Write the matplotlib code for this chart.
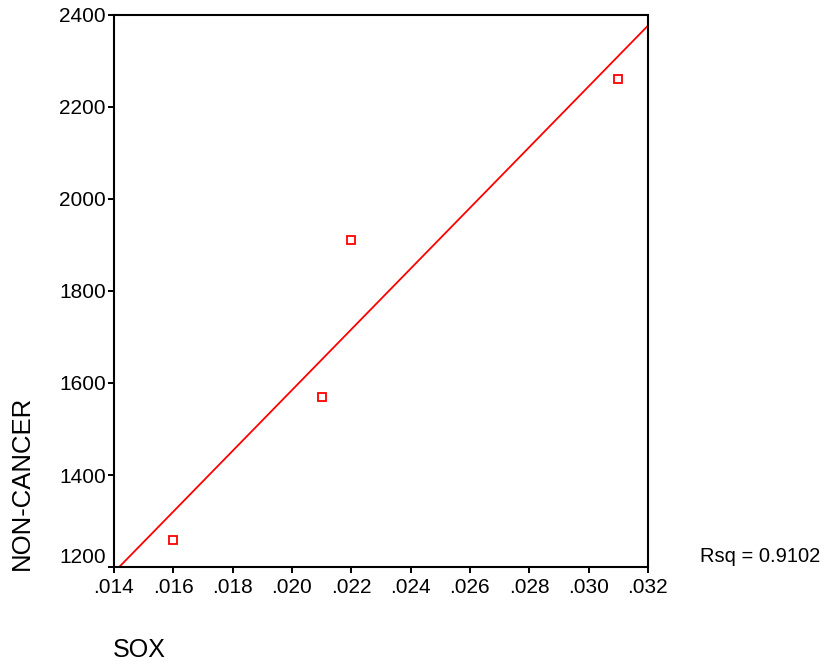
import numpy as np
import matplotlib
matplotlib.use("Agg")
import matplotlib.pyplot as plt
from matplotlib.ticker import FuncFormatter

plt.rcParams["font.family"] = ["Liberation Sans", "DejaVu Sans"]

sox = [0.016, 0.021, 0.022, 0.031]
non_cancer = [1258, 1570, 1910, 2260]
x_ticks = [0.014, 0.016, 0.018, 0.020, 0.022, 0.024, 0.026, 0.028, 0.030, 0.032]
y_ticks = [1200, 1400, 1600, 1800, 2000, 2200, 2400]
rsq_label = "Rsq = 0.9102"

fig = plt.figure(figsize=(8.24, 6.66), dpi=100)
ax = fig.add_axes([0.1383, 0.1486, 0.648, 0.829])

# least-squares fit line across the full x range
slope, intercept = np.polyfit(sox, non_cancer, 1)
xs = np.array([x_ticks[0], x_ticks[-1]])
ax.plot(xs, slope * xs + intercept, color="red", lw=1.3, zorder=2)

ax.plot(sox, non_cancer, linestyle="none", marker="s", ms=5.8,
        mfc="white", mec="red", mew=1.3, zorder=3)

ax.set_xlim(x_ticks[0], x_ticks[-1])
ax.set_ylim(y_ticks[0], y_ticks[-1])
ax.set_xticks(x_ticks)
ax.set_yticks(y_ticks)
ax.xaxis.set_major_formatter(FuncFormatter(lambda v, _: f"{v:.3f}".lstrip("0")))
ax.tick_params(direction="out", length=4, width=1.4, labelsize=15, pad=2)
ax.tick_params(axis="x", pad=4)
for s in ax.spines.values():
    s.set_linewidth(1.5)

# lift the lowest y label clear of the x labels
fig.canvas.draw()
ax.get_yticklabels()[0].set_verticalalignment("bottom")

fig.text(0.169, 0.0135, "SOX", fontsize=18, ha="center", va="baseline")
fig.text(0.027, 0.275, "NON-CANCER", fontsize=18.5, rotation=90, ha="center", va="center")
fig.text(0.850, 0.165, rsq_label, fontsize=14.5, ha="left", va="center")

fig.savefig("out.png", dpi=100)
